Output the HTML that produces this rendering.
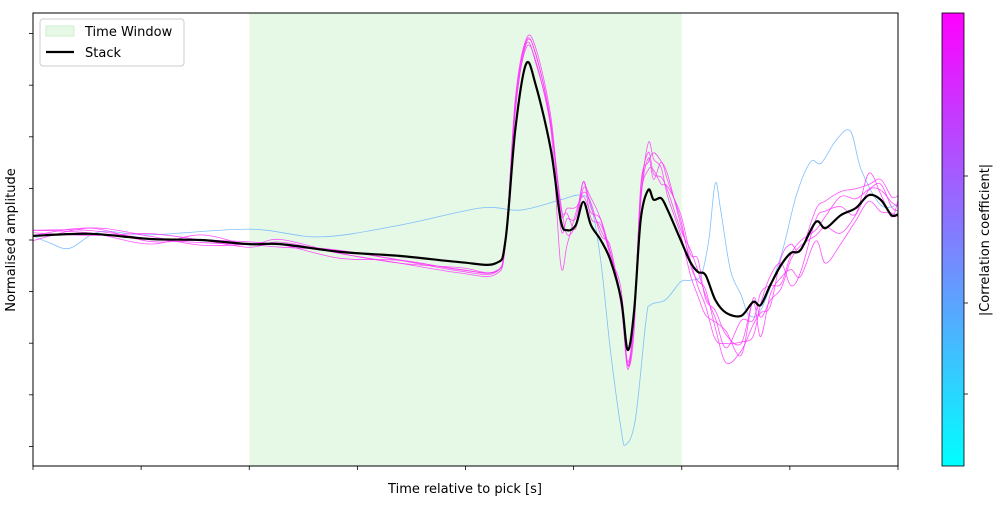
<!DOCTYPE html>
<html><head><meta charset="utf-8"><style>
body{margin:0;background:#fff;font-family:"Liberation Sans","DejaVu Sans",sans-serif;}
</style></head><body>
<svg id="chart" width="1000" height="500" xmlns="http://www.w3.org/2000/svg" style="font-family:'DejaVu Sans','Liberation Sans',sans-serif">
<defs><linearGradient id="cg" x1="0" y1="1" x2="0" y2="0"><stop offset="0" stop-color="#00ffff"/><stop offset="1" stop-color="#ff00ff"/></linearGradient>
<clipPath id="clip"><rect x="33" y="13" width="865" height="453"/></clipPath></defs>
<g id="plot"></g>
<rect x="942" y="13" width="22" height="453" fill="url(#cg)" stroke="#000" stroke-width="0.8"/>
<g stroke="#000" stroke-width="0.8">
<line x1="964" y1="176" x2="968" y2="176"/><line x1="964" y1="303" x2="968" y2="303"/><line x1="964" y1="394" x2="968" y2="394"/></g>
<text transform="translate(989,240) rotate(-90)" text-anchor="middle" font-size="13">|Correlation coefficient|</text>
<text x="465" y="493" text-anchor="middle" font-size="13">Time relative to pick [s]</text>
<text transform="translate(15,240) rotate(-90)" text-anchor="middle" font-size="13">Normalised amplitude</text>
<g>
<rect x="40" y="19" width="144" height="47" rx="3" fill="#fff" fill-opacity="0.85" stroke="#ccc"/>
<rect x="46" y="26" width="28" height="10" fill="#e6f9e6" stroke="#d0f0d0"/>
<text x="85" y="36" font-size="13">Time Window</text>
<line x1="46" y1="52" x2="74" y2="52" stroke="#000" stroke-width="2.2"/>
<text x="85" y="57" font-size="13">Stack</text>
</g>
</svg>
<script>
const xTicks=[0,1,2,3,4,5,6,7,8];
const yTicks=[-4,-3,-2,-1,0,1,2,3,4];
const windowRange=[2,6];
const stackT=[0,0.53,1.08,1.55,2,2.29,2.84,3.4,3.95,4.28,4.37,4.46,4.56,4.65,4.79,4.88,4.94,5.02,5.09,5.16,5.25,5.34,5.44,5.5,5.56,5.62,5.69,5.74,5.81,5.87,5.99,6.08,6.15,6.22,6.31,6.41,6.55,6.66,6.73,6.82,6.92,7.01,7.1,7.24,7.33,7.47,7.61,7.73,7.84,7.94,8];
const stackV=[0.08,0.12,0.02,0,-0.08,-0.08,-0.23,-0.31,-0.43,-0.45,0,2.13,3.41,3.0,1.74,0.39,0.19,0.29,0.74,0.29,0,-0.39,-1.16,-2.13,-1.36,0.39,0.97,0.78,0.81,0.58,0,-0.43,-0.62,-0.68,-1.16,-1.41,-1.47,-1.2,-1.26,-0.87,-0.48,-0.25,-0.19,0.35,0.23,0.48,0.62,0.87,0.78,0.48,0.5];
const blueT=[0,0.16,0.34,0.62,1.08,2.01,2.66,3.4,4.14,4.51,4.88,5.06,5.16,5.25,5.34,5.44,5.48,5.57,5.67,5.71,5.85,5.99,6.08,6.18,6.25,6.31,6.36,6.45,6.55,6.62,6.73,6.92,7.06,7.19,7.29,7.43,7.56,7.66,7.84,8];
const blueV=[0.08,-0.06,-0.16,0.16,0.1,0.21,0.06,0.29,0.62,0.58,0.78,0.87,0.68,-0.39,-2.13,-3.68,-3.97,-3.49,-1.55,-1.26,-1.16,-0.81,-0.78,-0.68,0,1.10,0.58,-0.58,-1.07,-1.45,-1.36,-0.29,0.87,1.51,1.49,1.94,2.11,1.36,0.68,0.68];
const magScale=[1.13,1.11,1.14,1.09,1.12];
const magDev=[
[0.1,0.0,-0.1,0.1,0.0,0.1,0.0,-0.1,-0.05,-0.1,0,0.2,0,0.2,0.3,-0.2,0.2,0.1,0.3,0.3,0.2,0.2,0.1,-0.1,0.1,0.5,0.6,0.4,0.3,0.3,0.2,0.3,0.1,-0.3,-0.2,-0.5,0.1,-0.2,0.4,0.1,-0.3,0.0,0.2,-0.2,0.2,0.3,0.1,0.0,0.2,0.1,0.0],
[-0.1,0.1,0.05,-0.1,0.0,0.0,-0.1,-0.05,-0.1,-0.1,-0.1,0.1,0,0.1,0.2,-0.9,-0.3,0.2,0.1,0.4,0.1,0.3,0,0,0,0.3,0.8,0.7,0.5,0.2,0.1,-0.2,-0.4,-0.7,-0.3,-0.2,-0.6,0.2,-0.1,-0.2,-0.4,-0.1,0.1,-0.3,0.0,-0.4,-0.2,0.0,0.1,0.2,0.1],
[0.05,-0.05,0.1,0.0,-0.05,0.05,0.0,-0.1,-0.15,-0.15,-0.05,0.3,0,0.3,0.4,0.1,0.4,0.3,0.0,0.2,0.4,0.2,0.2,0,-0.2,0.6,0.4,0.8,0.6,0.6,0.3,0.1,-0.2,-0.5,-0.6,-0.4,-0.3,-0.5,0.2,0.3,0.1,-0.6,-0.4,0.0,0.3,0.1,-0.2,0.3,0.0,-0.1,0.2],
[0.0,0.1,-0.05,0.0,0.05,0.0,0.05,-0.05,-0.1,-0.12,-0.05,0.2,0,0.2,0.3,0.3,-0.1,0.0,0.2,0.5,0.4,0.1,0.3,-0.1,0.1,0.4,0.3,0.5,0.2,0.4,0.5,0.2,0.3,-0.4,-0.1,-0.3,-0.4,0.1,-0.5,-0.1,-0.2,-0.3,-0.5,-0.4,-0.7,-0.6,-0.3,-0.2,-0.3,0.0,-0.1],
[0.1,0.05,0.0,-0.05,0.0,-0.05,0.05,-0.05,-0.12,-0.12,0,0.25,0,0.25,0.3,0.2,0.3,-0.1,0.3,0.1,0.3,0.2,0.1,-0.05,-0.1,0.3,0.5,0.3,0.6,0.5,0.4,0.0,-0.1,-0.2,-0.4,-0.8,-0.5,-0.3,0.0,-0.3,0.2,0.2,0.0,0.2,0.5,0.4,0.3,0.1,0.3,0.3,0.3]];
const X0=33,X1=898,Y0=13,Y1=466;
const xs=t=>X0+t*(X1-X0)/8;
const ys=v=>240-v*51.6;
const NS="http://www.w3.org/2000/svg";
const plot=document.getElementById('plot');
function mk(tag,attrs,parent){const e=document.createElementNS(NS,tag);for(const k in attrs)e.setAttribute(k,attrs[k]);(parent||plot).appendChild(e);return e;}
function pathD(T,V){const p=T.map((t,i)=>[xs(t),ys(V[i])]);let d=`M${p[0][0]},${p[0][1]}`;
for(let i=0;i<p.length-1;i++){const a=p[Math.max(0,i-1)],b=p[i],c=p[i+1],e=p[Math.min(p.length-1,i+2)];
d+=` C${b[0]+(c[0]-a[0])/6},${b[1]+(c[1]-a[1])/6} ${c[0]-(e[0]-b[0])/6},${c[1]-(e[1]-b[1])/6} ${c[0]},${c[1]}`;}return d;}
const win=mk('rect',{x:xs(windowRange[0]),y:Y0,width:xs(windowRange[1])-xs(windowRange[0]),height:Y1-Y0,fill:'#e6f9e6'});


const g=mk('g',{'clip-path':'url(#clip)'});
const bl=mk('path',{d:pathD(blueT,blueV),fill:'none',stroke:'#6ab4ff','stroke-width':0.8,opacity:0.85},g);


magDev.forEach((dev,k)=>{const V=stackV.map((v,i)=>v*magScale[k]+dev[i]);
const m=mk('path',{d:pathD(stackT,V),fill:'none',stroke:'#ff33ff','stroke-width':0.8,opacity:0.85},g);

});
const st=mk('path',{d:pathD(stackT,stackV),fill:'none',stroke:'#000','stroke-width':2.2},g);


const fr=mk('rect',{x:X0,y:Y0,width:X1-X0,height:Y1-Y0,fill:'none',stroke:'#000','stroke-width':1});


xTicks.forEach(t=>{const l=mk('line',{x1:xs(t),x2:xs(t),y1:Y1,y2:Y1+4,stroke:'#000','stroke-width':0.8});

});
yTicks.forEach(v=>{const l=mk('line',{x1:X0-4,x2:X0,y1:ys(v),y2:ys(v),stroke:'#000','stroke-width':0.8});

});
</script>
</body></html>
